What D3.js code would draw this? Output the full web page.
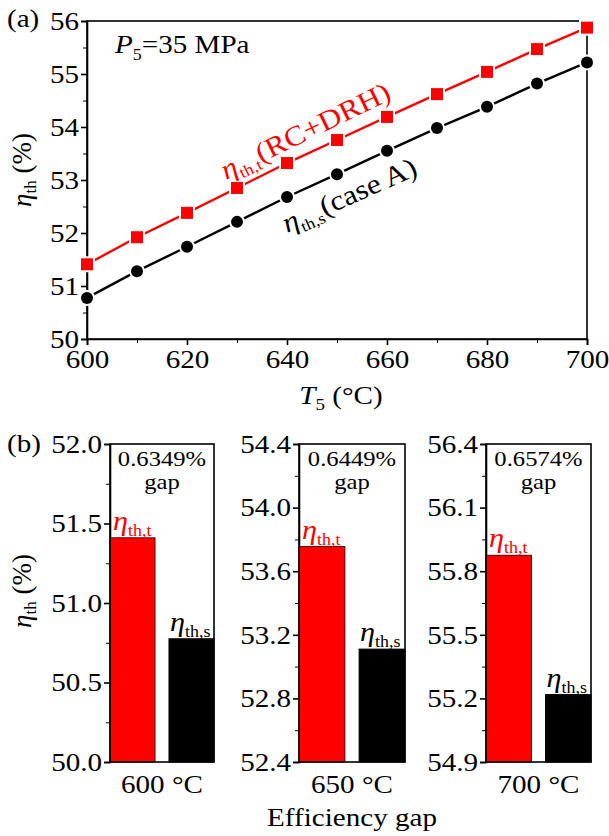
<!DOCTYPE html>
<html>
<head>
<meta charset="utf-8">
<script src="https://cdn.jsdelivr.net/npm/d3@7"></script>
<style>
  body { margin: 0; background: #fff; }
</style>
</head>
<body>
<div id="chart"></div>
<script>
// data
var temps = [600, 610, 620, 630, 640, 650, 660, 670, 680, 690, 700];
var etaT = [51.41, 51.92, 52.38, 52.85, 53.32, 53.755, 54.19, 54.62, 55.04, 55.47, 55.875];
var etaS = [50.775, 51.28, 51.74, 52.21, 52.68, 53.11, 53.55, 53.98, 54.38, 54.82, 55.218];

var barTemps = ["600 °C", "650 °C", "700 °C"];
var barEtaT = [51.41, 53.755, 55.875];
var barEtaS = [50.775, 53.11, 55.218];
var gapLabels = ["0.6349%", "0.6449%", "0.6574%"];
var barDomains = [[50, 52], [52.4, 54.4], [54.9, 56.4]];
var barTicks = [[50.0, 50.5, 51.0, 51.5, 52.0], [52.4, 52.8, 53.2, 53.6, 54.0, 54.4], [54.9, 55.2, 55.5, 55.8, 56.1, 56.4]];

var FONT = "Liberation Serif";
var SX = 1.12;   // the original figure's type is a bit wider than Times

var svg = d3.select("#chart").append("svg")
  .attr("width", 609)
  .attr("height", 836)
  .style("font-family", FONT);

var red = "#ff0000";

// text placed with translate + horizontal stretch
function txt(parent, x, y, size, extra) {
  return parent.append("text")
    .attr("transform", `translate(${x},${y}) ${extra || ""} scale(${SX},1)`)
    .style("font-size", size + "px");
}

function styleAxis(ax) {
  ax.selectAll("text").style("font-size", "26px").attr("fill", "#000")
    .attr("transform", `scale(${SX},1)`);
  ax.selectAll("line").attr("stroke-width", 1.6);
  ax.select(".domain").attr("stroke-width", 1.6);
}

// ---------- panel (a) ----------
var a = {left: 87, top: 21, width: 500, height: 318};
var gA = svg.append("g").attr("transform", `translate(${a.left},${a.top})`);

var x = d3.scaleLinear().domain([600, 700]).range([0, a.width]);
var y = d3.scaleLinear().domain([50, 56]).range([a.height, 0]);

// minor ticks
gA.append("g").attr("transform", `translate(0,${a.height})`)
  .call(d3.axisBottom(x).tickValues(d3.range(610, 700, 20)).tickSize(4).tickFormat(""))
  .call(g => g.select(".domain").remove());
gA.append("g")
  .call(d3.axisLeft(y).tickValues(d3.range(50.5, 56, 1)).tickSize(4).tickFormat(""))
  .call(g => g.select(".domain").remove());

var xAxis = gA.append("g").attr("transform", `translate(0,${a.height})`)
  .call(d3.axisBottom(x).tickValues(d3.range(600, 701, 20)).tickSize(6).tickPadding(5).tickFormat(d3.format("d")));
var yAxis = gA.append("g")
  .call(d3.axisLeft(y).ticks(6).tickSize(6).tickPadding(1).tickFormat(d3.format("d")));
styleAxis(xAxis);
styleAxis(yAxis);

gA.append("rect")
  .attr("width", a.width).attr("height", a.height)
  .attr("fill", "none").attr("stroke", "#000").attr("stroke-width", 1.6);

var line = d3.line().x((d, i) => x(temps[i])).y(d => y(d));

gA.append("path").datum(etaT).attr("d", line)
  .attr("fill", "none").attr("stroke", red).attr("stroke-width", 2.4);
gA.append("path").datum(etaS).attr("d", line)
  .attr("fill", "none").attr("stroke", "#000").attr("stroke-width", 2.4);

gA.selectAll(".sq").data(etaT).enter().append("rect")
  .attr("x", (d, i) => x(temps[i]) - 6)
  .attr("y", d => y(d) - 6)
  .attr("width", 12).attr("height", 12)
  .attr("fill", red).attr("stroke", "#fff").attr("stroke-width", 4)
  .style("paint-order", "stroke");

gA.selectAll(".dot").data(etaS).enter().append("circle")
  .attr("cx", (d, i) => x(temps[i]))
  .attr("cy", d => y(d))
  .attr("r", 6)
  .attr("fill", "#000").attr("stroke", "#fff").attr("stroke-width", 4)
  .style("paint-order", "stroke");

// P5 label
var p5 = txt(svg, 115, 53, 26);
p5.append("tspan").style("font-style", "italic").text("P");
p5.append("tspan").attr("dy", 7).style("font-size", "16px").text("5");
p5.append("tspan").attr("dy", -7).text("=35 MPa");

// eta labels with subscripts
function etaLabel(t, sub, rest, color) {
  t.attr("fill", color);
  t.append("tspan").style("font-style", "italic").text("η");
  t.append("tspan").attr("dy", 6).style("font-size", "16px").text(sub);
  if (rest) t.append("tspan").attr("dy", -6).text(rest);
  return t;
}
etaLabel(txt(svg, 226, 180, 28, "rotate(-26)"), "th,t", "(RC+DRH)", red);
etaLabel(txt(svg, 287, 233, 28, "rotate(-24)"), "th,s", "(case A)", "#000");

// axis titles panel (a)
var yl = svg.append("text").attr("transform", "translate(31,170) rotate(-90)")
  .attr("text-anchor", "middle").style("font-size", "27px");
yl.append("tspan").style("font-style", "italic").text("η");
yl.append("tspan").attr("dy", 5).style("font-size", "17px").text("th");
yl.append("tspan").attr("dy", -5).text(" (%)");

var xl = txt(svg, 341, 404, 26).attr("text-anchor", "middle");
xl.append("tspan").style("font-style", "italic").text("T");
xl.append("tspan").attr("dy", 6).style("font-size", "17px").text("5");
xl.append("tspan").attr("dy", -6).text(" (°C)");

txt(svg, 7, 27, 26).text("(a)");
txt(svg, 7, 452, 26).text("(b)");

// ---------- panel (b) ----------
var bTop = 444, bHeight = 318;
var panelX = [[110, 214], [299, 405], [486, 591]];

barTemps.forEach(function(label, k) {
  var x0 = panelX[k][0], w = panelX[k][1] - panelX[k][0];
  var g = svg.append("g").attr("transform", `translate(${x0},${bTop})`);
  var yb = d3.scaleLinear().domain(barDomains[k]).range([bHeight, 0]);
  var xb = d3.scaleBand().domain(["t", "s"]).range([0, w]).paddingInner(0.237).paddingOuter(0);

  var ticks = barTicks[k];
  var minor = [];
  for (var i = 0; i < ticks.length - 1; i++) minor.push((ticks[i] + ticks[i + 1]) / 2);

  g.append("g").call(d3.axisLeft(yb).tickValues(minor).tickSize(4).tickFormat(""))
    .call(s => s.select(".domain").remove());
  var ay = g.append("g").call(d3.axisLeft(yb).tickValues(ticks).tickSize(6).tickPadding(1).tickFormat(d3.format(".1f")));
  styleAxis(ay);

  var vals = {t: barEtaT[k], s: barEtaS[k]};
  g.selectAll(".bar").data(["t", "s"]).enter().append("rect")
    .attr("x", d => xb(d))
    .attr("y", d => yb(vals[d]))
    .attr("width", xb.bandwidth())
    .attr("height", d => bHeight - yb(vals[d]))
    .attr("fill", d => d === "t" ? red : "#000")
    .attr("stroke", d => d === "t" ? "#5a0000" : "#000")
    .attr("stroke-width", 1);

  g.append("rect").attr("width", w).attr("height", bHeight)
    .attr("fill", "none").attr("stroke", "#000").attr("stroke-width", 1.6);

  etaLabel(txt(g, xb("t") + 3, yb(vals.t) - 8, 27), "th,t", null, red);
  etaLabel(txt(g, xb("s") + 1, yb(vals.s) - 8, 27), "th,s", null, "#000");

  txt(g, w / 2, 22, 22).attr("text-anchor", "middle").text(gapLabels[k]);
  txt(g, w / 2, 45, 22).attr("text-anchor", "middle").text("gap");

  txt(g, w / 2, bHeight + 31, 26).attr("text-anchor", "middle").text(label);
});

var yl2 = svg.append("text").attr("transform", "translate(31,591) rotate(-90)")
  .attr("text-anchor", "middle").style("font-size", "27px");
yl2.append("tspan").style("font-style", "italic").text("η");
yl2.append("tspan").attr("dy", 5).style("font-size", "17px").text("th");
yl2.append("tspan").attr("dy", -5).text(" (%)");

txt(svg, 352, 826, 26).attr("text-anchor", "middle").text("Efficiency gap");

svg.selectAll("text").style("font-family", FONT);
</script>
</body>
</html>
